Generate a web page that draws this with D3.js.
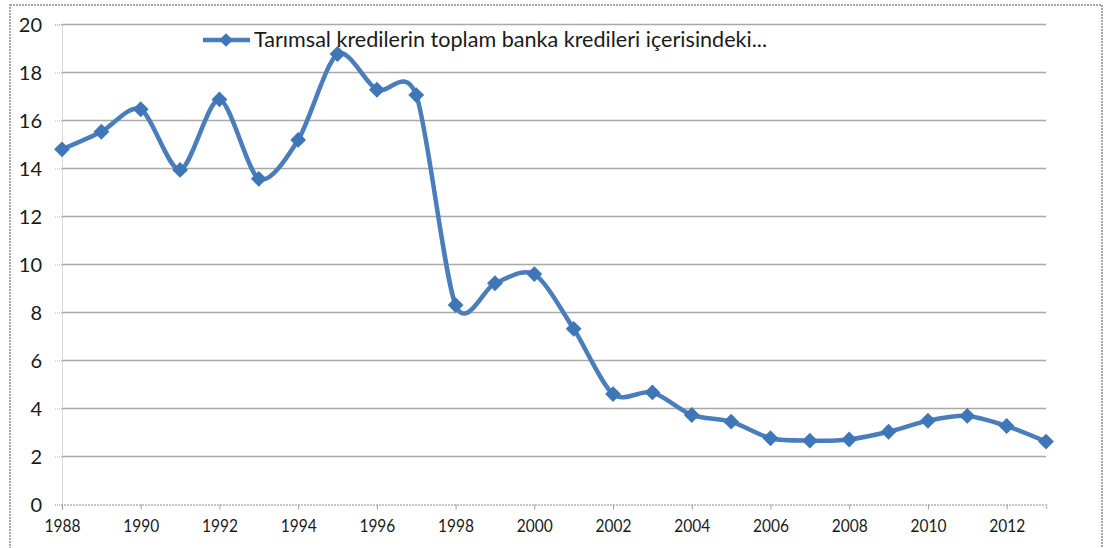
<!DOCTYPE html>
<html><head><meta charset="utf-8">
<script src="https://cdn.jsdelivr.net/npm/d3@7"></script>
<style>body{margin:0;background:#fff}svg{display:block}</style>
</head><body>
<svg id="c" width="1105" height="548"></svg>
<script>
const years = [1988,1989,1990,1991,1992,1993,1994,1995,1996,1997,1998,1999,2000,2001,2002,2003,2004,2005,2006,2007,2008,2009,2010,2011,2012,2013];
const values = [14.8,15.53,16.47,13.94,16.88,13.57,15.19,18.77,17.28,17.06,8.31,9.22,9.6,7.32,4.6,4.67,3.73,3.45,2.76,2.66,2.71,3.03,3.49,3.69,3.27,2.62];
const yTicks = [0,2,4,6,8,10,12,14,16,18,20];
const xTicks = [1988,1990,1992,1994,1996,1998,2000,2002,2004,2006,2008,2010,2012];
const seriesName = "Tarımsal kredilerin toplam banka kredileri içerisindeki...";

const svg = d3.select("#c");
const L = 62, R = 1046, T = 24.5, B = 504.5;
const x = d3.scaleLinear().domain([1988,2013]).range([L,R]);
const y = d3.scaleLinear().domain([0,20]).range([B,T]);

// outer border
svg.append("rect").attr("x",10).attr("y",5).attr("width",1092).attr("height",560)
  .attr("fill","none").attr("stroke","#8c8c8c").attr("stroke-width",1.5).attr("stroke-dasharray","2,1");

// gridlines
svg.append("g").selectAll("line").data(yTicks.filter(d=>d>0)).join("line")
  .attr("x1",L).attr("x2",R).attr("y1",d=>y(d)).attr("y2",d=>y(d))
  .attr("stroke","#a9a9a9").attr("stroke-width",1.5);

// y axis
const ya = svg.append("g").attr("transform",`translate(${L},0)`).call(d3.axisLeft(y).tickValues(yTicks).tickSize(7).tickPadding(13));
ya.select(".domain").attr("stroke","#b0b0b0").attr("stroke-dasharray","1,1").attr("stroke-width",1);
ya.selectAll(".tick line").attr("stroke","#b0b0b0").attr("stroke-dasharray","1,1");
ya.selectAll("text").attr("font-family","Lato, 'Open Sans', sans-serif").attr("font-size",20).attr("fill","#1a1a1a")
  .attr("dy","0.36em");

// x axis
const xa = svg.append("g").attr("transform",`translate(0,${B})`).call(d3.axisBottom(x).tickValues(xTicks).tickFormat(d3.format("d")).tickSize(5).tickPadding(10));
xa.select(".domain").attr("stroke","#b5b5b5").attr("stroke-dasharray","2,1").attr("stroke-width",1.5);
xa.selectAll(".tick line").attr("stroke","#a0a0a0");
xa.selectAll("text").attr("font-family","Lato, 'Open Sans', sans-serif").attr("font-size",17).attr("fill","#1a1a1a")
  .attr("textLength",36).attr("lengthAdjust","spacingAndGlyphs");

// line
const color = "#4a7ebb";
const line = d3.line().x((d,i)=>x(years[i])).y(d=>y(d)).curve(d3.curveCardinal.tension(0.15));
svg.append("path").datum(values).attr("d",line).attr("fill","none").attr("stroke",color).attr("stroke-width",4.5).attr("stroke-linejoin","round");

const diamond = d3.symbol().type(d3.symbolDiamond2).size(160);
svg.append("g").selectAll("path").data(values).join("path")
  .attr("d",diamond).attr("transform",(d,i)=>`translate(${x(years[i])},${y(d)})`)
  .attr("fill","#3f76b8");

// legend
const lg = svg.append("g");
lg.append("line").attr("x1",203).attr("x2",250).attr("y1",40).attr("y2",40).attr("stroke",color).attr("stroke-width",4.5);
lg.append("path").attr("d",d3.symbol().type(d3.symbolDiamond2).size(120)).attr("transform","translate(226,40)").attr("fill","#3f76b8");
lg.append("text").attr("x",254).attr("y",47).text(seriesName)
  .attr("font-family","Lato, 'Open Sans', sans-serif").attr("font-size",21).attr("fill","#1a1a1a")
  .attr("textLength",513).attr("lengthAdjust","spacingAndGlyphs");
</script>
</body></html>
